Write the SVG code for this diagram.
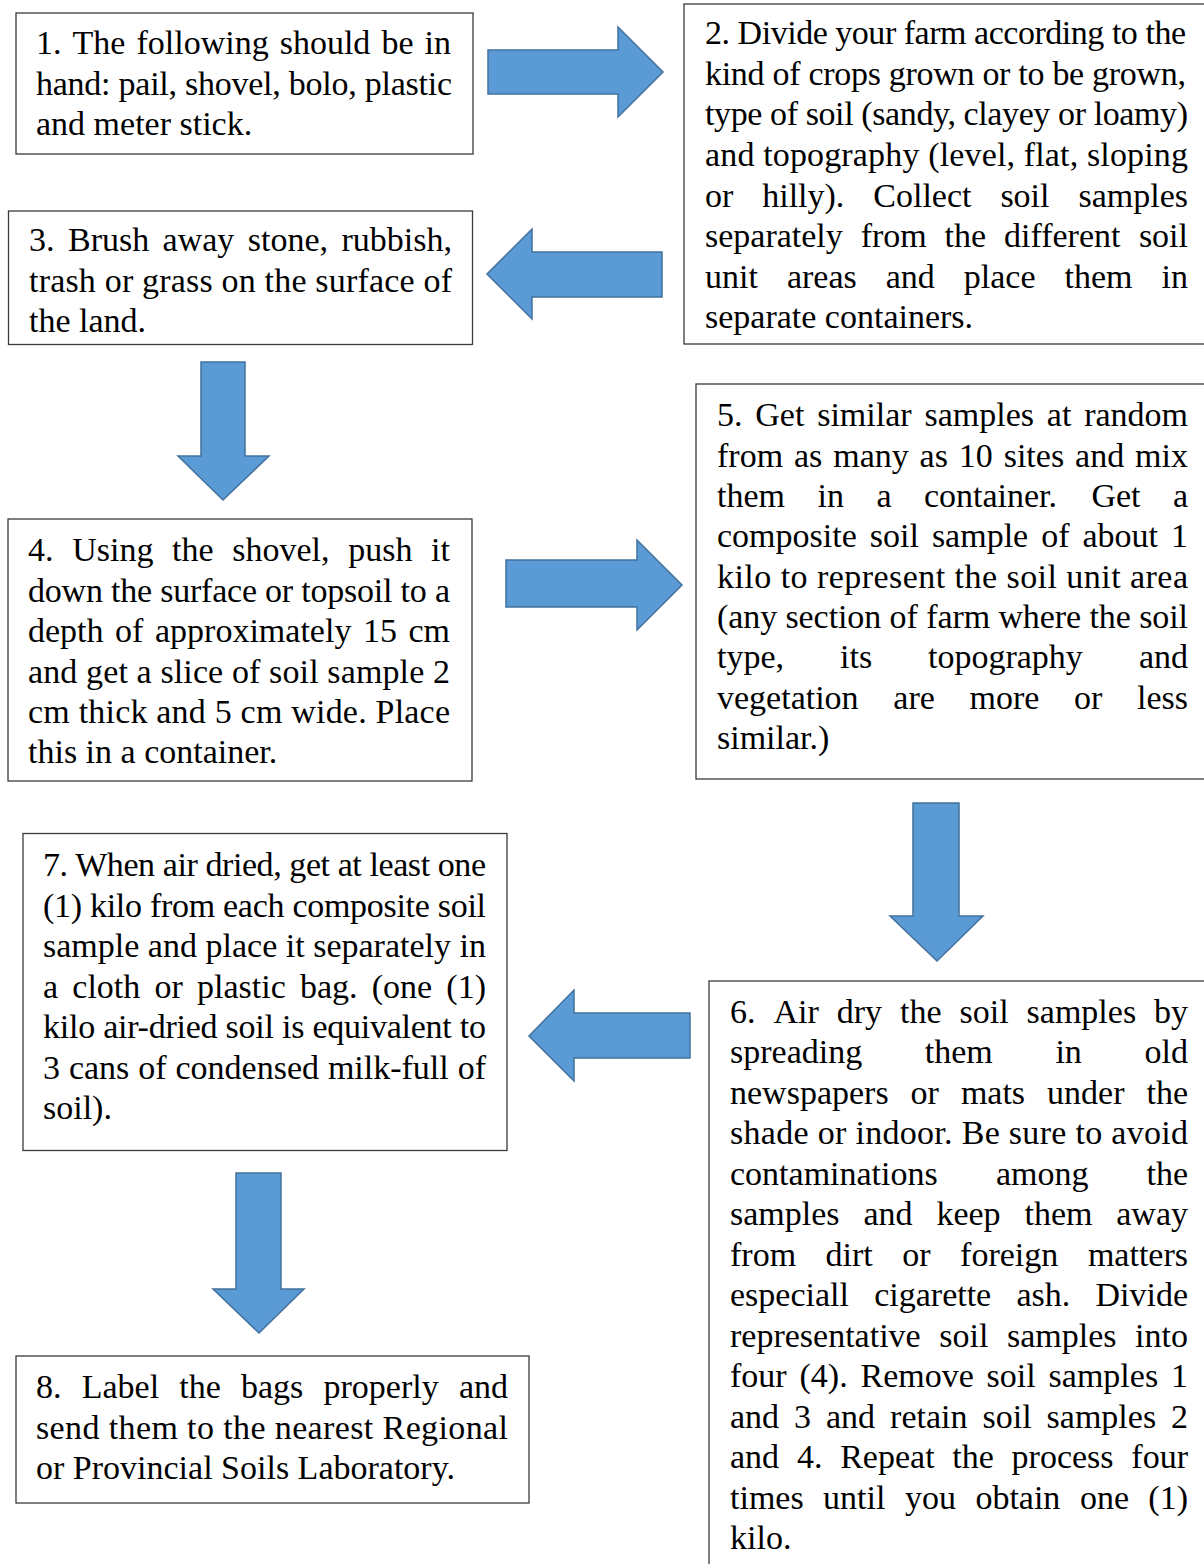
<svg xmlns="http://www.w3.org/2000/svg" width="1204" height="1564" viewBox="0 0 1204 1564">
<style>
.t{font-family:"Liberation Serif","Times New Roman",serif;font-size:34px;fill:#000}
.e{text-anchor:end}
.box{fill:#fff;stroke:#3a3a3a;stroke-width:1.3}
.arrow{fill:#5b9bd5;stroke:#41719c;stroke-width:1.5;stroke-linejoin:miter}
</style>
<rect width="1204" height="1564" fill="#fff"/>
<g id="connectors">
<path class="arrow" d="M488,50 H618 V27 L663,72 L618,117 V94 H488 Z"/>
<path class="arrow" d="M662,252 H532 V229 L487,274 L532,319 V297 H662 Z"/>
<path class="arrow" d="M201,362 H245 V456 H269 L223,500 L178,456 H201 Z"/>
<path class="arrow" d="M506,560 H637 V540 L682,585 L637,630 V607 H506 Z"/>
<path class="arrow" d="M913,803 H959 V916 H983 L937,961 L890,916 H913 Z"/>
<path class="arrow" d="M690,1013 H574 V990 L529,1036 L574,1081 V1058 H690 Z"/>
<path class="arrow" d="M236,1173 H281 V1289 H304 L259,1333 L213,1289 H236 Z"/>
</g>
<g id="step1">
<rect class="box" x="16" y="13" width="457" height="141"/>
<text class="t" y="54"><tspan x="36">1.</tspan><tspan x="72.5">The</tspan><tspan x="136.5">following</tspan><tspan x="279.7">should</tspan><tspan x="381.4">be</tspan><tspan class="e" x="451">in</tspan></text>
<text class="t" x="36" y="94.5" textLength="416" lengthAdjust="spacing">hand: pail, shovel, bolo, plastic</text>
<text class="t" x="36" y="135">and meter stick.</text>
</g>
<g id="step2">
<rect class="box" x="684" y="4" width="530" height="340"/>
<text class="t" x="705" y="44" textLength="481" lengthAdjust="spacing">2. Divide your farm according to the</text>
<text class="t" x="705" y="85" textLength="481" lengthAdjust="spacing">kind of crops grown or to be grown,</text>
<text class="t" x="705" y="125" textLength="483" lengthAdjust="spacing">type of soil (sandy, clayey or loamy)</text>
<text class="t" x="705" y="166" textLength="483" lengthAdjust="spacing">and topography (level, flat, sloping</text>
<text class="t" y="206.5"><tspan x="705">or</tspan><tspan x="762.2">hilly).</tspan><tspan x="873.3">Collect</tspan><tspan x="1000.4">soil</tspan><tspan class="e" x="1188">samples</tspan></text>
<text class="t" y="247"><tspan x="705">separately</tspan><tspan x="860.7">from</tspan><tspan x="944.6">the</tspan><tspan x="1004">different</tspan><tspan class="e" x="1188">soil</tspan></text>
<text class="t" y="287.5"><tspan x="705">unit</tspan><tspan x="786.9">areas</tspan><tspan x="885.7">and</tspan><tspan x="963.8">place</tspan><tspan x="1064.5">them</tspan><tspan class="e" x="1188">in</tspan></text>
<text class="t" x="705" y="328">separate containers.</text>
</g>
<g id="step3">
<rect class="box" x="8.5" y="211" width="464" height="133.5"/>
<text class="t" y="251"><tspan x="29">3.</tspan><tspan x="68">Brush</tspan><tspan x="162.6">away</tspan><tspan x="247.8">stone,</tspan><tspan class="e" x="452">rubbish,</tspan></text>
<text class="t" x="29" y="291.5" textLength="423" lengthAdjust="spacing">trash or grass on the surface of</text>
<text class="t" x="29" y="332">the land.</text>
</g>
<g id="step4">
<rect class="box" x="8" y="519" width="464" height="262"/>
<text class="t" y="561"><tspan x="28">4.</tspan><tspan x="72.2">Using</tspan><tspan x="172.1">the</tspan><tspan x="232.3">shovel,</tspan><tspan x="348.3">push</tspan><tspan class="e" x="450">it</tspan></text>
<text class="t" x="28" y="601.5" textLength="422" lengthAdjust="spacing">down the surface or topsoil to a</text>
<text class="t" y="642"><tspan x="28">depth</tspan><tspan x="115.1">of</tspan><tspan x="155">approximately</tspan><tspan x="363">15</tspan><tspan class="e" x="450">cm</tspan></text>
<text class="t" x="28" y="682.5" textLength="422" lengthAdjust="spacing">and get a slice of soil sample 2</text>
<text class="t" x="28" y="723" textLength="422" lengthAdjust="spacing">cm thick and 5 cm wide. Place</text>
<text class="t" x="28" y="763">this in a container.</text>
</g>
<g id="step5">
<rect class="box" x="696" y="384" width="518" height="395"/>
<text class="t" y="426"><tspan x="717">5.</tspan><tspan x="755.3">Get</tspan><tspan x="817.2">similar</tspan><tspan x="924.5">samples</tspan><tspan x="1046.8">at</tspan><tspan class="e" x="1188">random</tspan></text>
<text class="t" y="466.5"><tspan x="717">from</tspan><tspan x="794">as</tspan><tspan x="833.2">many</tspan><tspan x="919.6">as</tspan><tspan x="958.8">10</tspan><tspan x="1003.7">sites</tspan><tspan x="1075.1">and</tspan><tspan class="e" x="1188">mix</tspan></text>
<text class="t" y="507"><tspan x="717">them</tspan><tspan x="817.5">in</tspan><tspan x="876.4">a</tspan><tspan x="923.9">container.</tspan><tspan x="1091.4">Get</tspan><tspan class="e" x="1188">a</tspan></text>
<text class="t" y="547"><tspan x="717">composite</tspan><tspan x="869.8">soil</tspan><tspan x="931.9">sample</tspan><tspan x="1041.2">of</tspan><tspan x="1082.5">about</tspan><tspan class="e" x="1188">1</tspan></text>
<text class="t" x="717" y="587.5" textLength="471" lengthAdjust="spacing">kilo to represent the soil unit area</text>
<text class="t" x="717" y="628" textLength="471" lengthAdjust="spacing">(any section of farm where the soil</text>
<text class="t" y="668"><tspan x="717">type,</tspan><tspan x="840">its</tspan><tspan x="928">topography</tspan><tspan class="e" x="1188">and</tspan></text>
<text class="t" y="708.5"><tspan x="717">vegetation</tspan><tspan x="893.3">are</tspan><tspan x="969.5">more</tspan><tspan x="1074.1">or</tspan><tspan class="e" x="1188">less</tspan></text>
<text class="t" x="717" y="748.5">similar.)</text>
</g>
<g id="step6">
<rect class="box" x="709" y="981" width="505" height="620"/>
<text class="t" y="1023"><tspan x="730">6.</tspan><tspan x="773.5">Air</tspan><tspan x="836.7">dry</tspan><tspan x="900">the</tspan><tspan x="959.5">soil</tspan><tspan x="1026.6">samples</tspan><tspan class="e" x="1188">by</tspan></text>
<text class="t" y="1063"><tspan x="730">spreading</tspan><tspan x="924.8">them</tspan><tspan x="1055.4">in</tspan><tspan class="e" x="1188">old</tspan></text>
<text class="t" y="1103.5"><tspan x="730">newspapers</tspan><tspan x="910.6">or</tspan><tspan x="960.9">mats</tspan><tspan x="1047.1">under</tspan><tspan class="e" x="1188">the</tspan></text>
<text class="t" x="730" y="1144" textLength="458" lengthAdjust="spacing">shade or indoor. Be sure to avoid</text>
<text class="t" y="1184.5"><tspan x="730">contaminations</tspan><tspan x="995.9">among</tspan><tspan class="e" x="1188">the</tspan></text>
<text class="t" y="1225"><tspan x="730">samples</tspan><tspan x="863.4">and</tspan><tspan x="936.4">keep</tspan><tspan x="1024.5">them</tspan><tspan class="e" x="1188">away</tspan></text>
<text class="t" y="1265.5"><tspan x="730">from</tspan><tspan x="825.6">dirt</tspan><tspan x="902.3">or</tspan><tspan x="960.1">foreign</tspan><tspan class="e" x="1188">matters</tspan></text>
<text class="t" y="1306"><tspan x="730">especiall</tspan><tspan x="874.2">cigarette</tspan><tspan x="1016.5">ash.</tspan><tspan class="e" x="1188">Divide</tspan></text>
<text class="t" y="1346.5"><tspan x="730">representative</tspan><tspan x="939.3">soil</tspan><tspan x="1007">samples</tspan><tspan class="e" x="1188">into</tspan></text>
<text class="t" y="1387"><tspan x="730">four</tspan><tspan x="799.5">(4).</tspan><tspan x="860.5">Remove</tspan><tspan x="986.6">soil</tspan><tspan x="1048.6">samples</tspan><tspan class="e" x="1188">1</tspan></text>
<text class="t" y="1427.5"><tspan x="730">and</tspan><tspan x="794.1">3</tspan><tspan x="826">and</tspan><tspan x="890.1">retain</tspan><tspan x="982.5">soil</tspan><tspan x="1046.6">samples</tspan><tspan class="e" x="1188">2</tspan></text>
<text class="t" y="1468"><tspan x="730">and</tspan><tspan x="796.9">4.</tspan><tspan x="840.2">Repeat</tspan><tspan x="952.3">the</tspan><tspan x="1011.6">process</tspan><tspan class="e" x="1188">four</tspan></text>
<text class="t" y="1508.5"><tspan x="730">times</tspan><tspan x="823.1">until</tspan><tspan x="905">you</tspan><tspan x="975.4">obtain</tspan><tspan x="1079.9">one</tspan><tspan class="e" x="1188">(1)</tspan></text>
<text class="t" x="730" y="1549">kilo.</text>
</g>
<g id="step7">
<rect class="box" x="23" y="833.5" width="484" height="317"/>
<text class="t" x="43" y="876" textLength="443" lengthAdjust="spacing">7. When air dried, get at least one</text>
<text class="t" x="43" y="916.5" textLength="443" lengthAdjust="spacing">(1) kilo from each composite soil</text>
<text class="t" x="43" y="957" textLength="443" lengthAdjust="spacing">sample and place it separately in</text>
<text class="t" y="997.5"><tspan x="43">a</tspan><tspan x="72.3">cloth</tspan><tspan x="154.5">or</tspan><tspan x="197">plastic</tspan><tspan x="300">bag.</tspan><tspan x="371.8">(one</tspan><tspan class="e" x="486">(1)</tspan></text>
<text class="t" x="43" y="1038" textLength="443" lengthAdjust="spacing">kilo air-dried soil is equivalent to</text>
<text class="t" y="1078.5"><tspan x="43">3</tspan><tspan x="68.9">cans</tspan><tspan x="138.2">of</tspan><tspan x="175.5">condensed</tspan><tspan x="327.9">milk-full</tspan><tspan class="e" x="486">of</tspan></text>
<text class="t" x="43" y="1119">soil).</text>
</g>
<g id="step8">
<rect class="box" x="16" y="1356" width="513" height="147"/>
<text class="t" y="1398"><tspan x="36">8.</tspan><tspan x="81.7">Label</tspan><tspan x="179.3">the</tspan><tspan x="241">bags</tspan><tspan x="323.5">properly</tspan><tspan class="e" x="508">and</tspan></text>
<text class="t" x="36" y="1438.5" textLength="472" lengthAdjust="spacing">send them to the nearest Regional</text>
<text class="t" x="36" y="1479">or Provincial Soils Laboratory.</text>
</g>
</svg>
